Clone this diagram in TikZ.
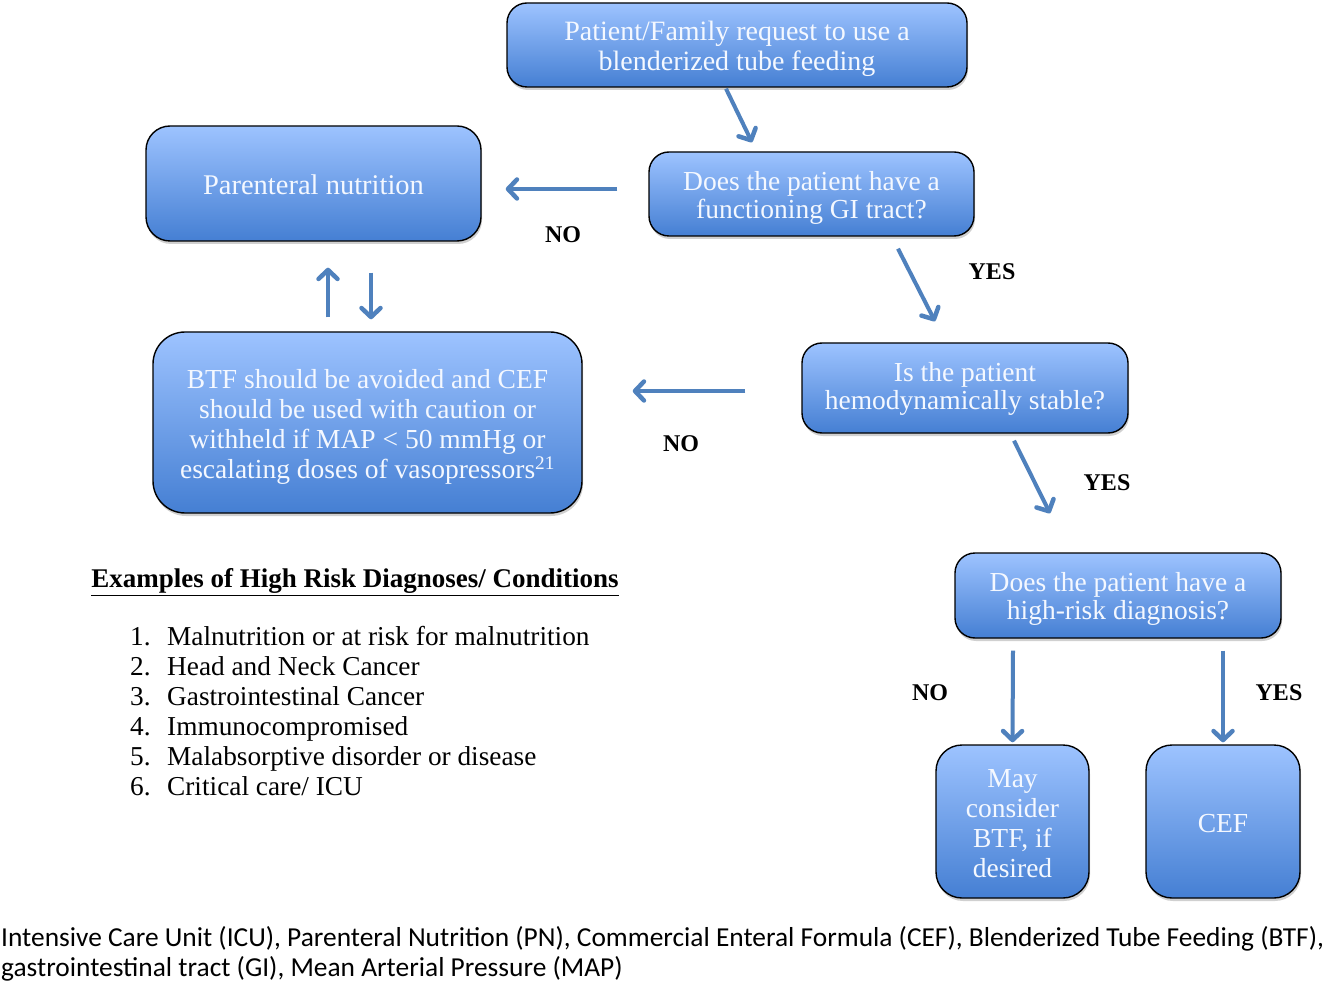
\documentclass[tikz,border=0pt]{standalone}
\usepackage{fontspec}
\setmainfont{Liberation Serif}
\newfontfamily\footfont{Carlito}
\usetikzlibrary{arrows.meta,shadows}
\definecolor{arrblue}{HTML}{4F81BD}
\definecolor{boxtop}{HTML}{9DC3FF}
\definecolor{boxbot}{HTML}{457FD3}
\definecolor{boxtext}{HTML}{F4F8FF}
\newcommand{\boxlines}[2]{\raisebox{-#1}[\height][\depth]{\begin{tabular}{@{}c@{}}#2\end{tabular}}}
\tikzset{
  flowbox/.style={draw=black, line width=1.4pt, rounded corners=20pt,
    top color=boxtop, bottom color=boxbot, text=boxtext, align=center,
    inner sep=0pt,
    drop shadow={shadow xshift=1pt, shadow yshift=-3pt, opacity=0.3, fill=black!60},
    font=\fontsize{27.5}{30}\selectfont},
  arr/.style={draw=arrblue, line width=4pt, -{Straight Barb[length=9pt,width=19pt,line width=4.5pt,round]}},
  lbl/.style={font=\fontsize{24}{26}\selectfont\bfseries, text=black}
}
\begin{document}
\begin{tikzpicture}[x=1pt,y=-1pt]
\useasboundingbox[fill=white] (0,0) rectangle (1328,981);

\node[flowbox, minimum width=460pt, minimum height=84pt, font=\fontsize{28}{30}\selectfont] (top) at (737,45)
  {\boxlines{4.5pt}{Patient/Family request to use a\\blenderized tube feeding}};
\node[flowbox, minimum width=325pt, minimum height=84pt, font=\fontsize{27.5}{28}\selectfont] (gi) at (811.5,194)
  {\boxlines{5pt}{Does the patient have a\\functioning GI tract?}};
\node[flowbox, minimum width=335pt, minimum height=115pt, rounded corners=24pt, font=\fontsize{28.5}{30}\selectfont] (pn) at (313.5,183.5)
  {\boxlines{5pt}{Parenteral nutrition}};
\node[flowbox, minimum width=326pt, minimum height=90pt, font=\fontsize{27.5}{28}\selectfont] (hd) at (965,388)
  {\boxlines{2pt}{Is the patient\\hemodynamically stable?}};
\node[flowbox, minimum width=429pt, minimum height=181pt, rounded corners=32pt] (btf) at (367.5,422.5)
  {\boxlines{5pt}{BTF should be avoided and CEF\\should be used with caution or\\withheld if MAP {<} 50 mmHg or\\escalating doses of vasopressors\textsuperscript{21}}};
\node[flowbox, minimum width=326pt, minimum height=85pt, font=\fontsize{27.5}{28}\selectfont] (hr) at (1118,595.5)
  {\boxlines{4pt}{Does the patient have a\\high-risk diagnosis?}};
\node[flowbox, minimum width=153pt, minimum height=153pt, rounded corners=26pt] (may) at (1012.5,821.5)
  {\boxlines{5pt}{May\\consider\\BTF, if\\desired}};
\node[flowbox, minimum width=154pt, minimum height=153pt, rounded corners=26pt] (cef) at (1223,821.5)
  {\boxlines{5pt}{CEF}};

\draw[arr] ([xshift=-11pt,yshift=-1pt]top.south) -- ([xshift=-59.5pt,yshift=9pt]gi.north);
\draw[arr] ([xshift=-31pt,yshift=5pt]gi.west) -- ([xshift=24pt,yshift=-5.5pt]pn.east);
\draw[arr] ([xshift=86.5pt,yshift=-12pt]gi.south) -- ([xshift=-30pt,yshift=21pt]hd.north);
\draw[arr] ([xshift=-56pt,yshift=-3pt]hd.west) -- ([xshift=50pt,yshift=31.5pt]btf.east);
\draw[arr] ([xshift=49pt,yshift=-7pt]hd.south) -- ([xshift=-68pt,yshift=39pt]hr.north);
\draw[arr] ([xshift=-105pt,yshift=-12pt]hr.south) -- ([yshift=2pt]may.north);
\draw[arr] ([xshift=105pt,yshift=-12pt]hr.south) -- ([yshift=2pt]cef.north);
\draw[arr] ([xshift=-39.5pt,yshift=14pt]btf.north) -- ([xshift=14.5pt,yshift=-26pt]pn.south);
\draw[arr] ([xshift=57.5pt,yshift=-31pt]pn.south) -- ([xshift=3.5pt,yshift=12pt]btf.north);

\node[lbl] (no1) at (563,235) {NO};
\node[lbl] (yes1) at (992,272) {YES};
\node[lbl] (no2) at (681,444) {NO};
\node[lbl] (yes2) at (1107,483) {YES};
\node[lbl] (no3) at (930,693) {NO};
\node[lbl] (yes3) at (1279,693) {YES};

\node[font=\fontsize{27}{28}\selectfont\bfseries, inner sep=0pt] (hdr) at (355,582)
  {\underline{Examples of High Risk Diagnoses/ Conditions}};

\node[anchor=north west, align=left, inner sep=0pt, font=\fontsize{27.3}{30}\selectfont] (list) at (130,626)
  {\makebox[37pt][l]{1.}Malnutrition or at risk for malnutrition\\
   \makebox[37pt][l]{2.}Head and Neck Cancer\\
   \makebox[37pt][l]{3.}Gastrointestinal Cancer\\
   \makebox[37pt][l]{4.}Immunocompromised\\
   \makebox[37pt][l]{5.}Malabsorptive disorder or disease\\
   \makebox[37pt][l]{6.}Critical care/ ICU};

\node[anchor=north west, align=left, inner sep=0pt, font=\footfont\fontsize{27.4}{30}\selectfont] (foot) at (1,926)
  {Intensive Care Unit (ICU), Parenteral Nutrition (PN), Commercial Enteral Formula (CEF), Blenderized Tube Feeding (BTF),\\
   gastrointestinal tract (GI), Mean Arterial Pressure (MAP)};
\end{tikzpicture}
\end{document}
